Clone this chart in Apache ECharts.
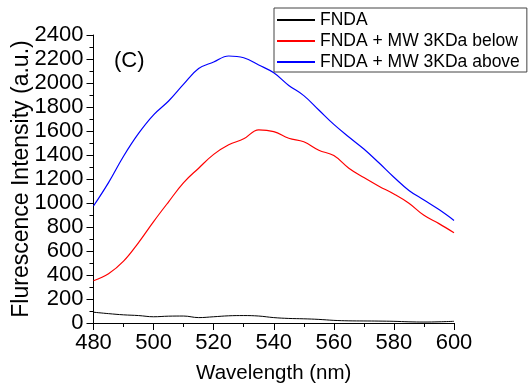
<!DOCTYPE html>
<html>
<head>
<meta charset="utf-8">
<script src="https://cdn.jsdelivr.net/npm/echarts@6/dist/echarts.min.js"></script>
<style>
html,body{margin:0;padding:0;background:#fff;}
#chart{width:529px;height:389px;}
</style>
</head>
<body>
<div id="chart"></div>
<script>
var wavelengths = [480,485,490,495,500,505,510,515,520,525,530,535,540,545,550,555,560,565,570,575,580,585,590,595,600];
var fnda =       [90,78,68,62,52,57,58,45,52,60,62,58,45,38,35,30,22,18,17,16,14,10,8,10,14];
var fndaBelow =  [352,410,515,670,845,1010,1170,1290,1405,1485,1535,1610,1595,1540,1510,1440,1395,1290,1212,1140,1075,998,897,828,752];
var fndaAbove =  [975,1170,1390,1580,1735,1850,1990,2120,2175,2225,2210,2150,2085,1980,1895,1775,1655,1550,1450,1335,1215,1105,1025,945,855];
var seriesNames = ['FNDA','FNDA + MW 3KDa below','FNDA + MW 3KDa above'];
var seriesColors = ['#000000','#ff0000','#0000ff'];
var xTitle = 'Wavelength (nm)';
var yTitle = 'Flurescence Intensity (a.u.)';
var panelLabel = '(C)';

function pairs(vals){ return wavelengths.map(function(w,i){ return [w, vals[i]]; }); }
var FONT = '"Liberation Sans", Arial, sans-serif';
var chart = echarts.init(document.getElementById('chart'), null, {renderer:'canvas'});
var allVals = [fnda, fndaBelow, fndaAbove];
chart.setOption({
  animation:false,
  backgroundColor:'#fff',
  textStyle:{fontFamily:FONT},
  grid:{left:93.5, right:75, top:35, bottom:63},
  legend:{
    orient:'vertical', left:274, top:8,
    padding:[2,7,0,3],
    itemWidth:38, itemHeight:2, itemGap:1,
    icon:'rect',
    borderColor:'#444', borderWidth:1, backgroundColor:'#fff',
    textStyle:{fontFamily:FONT, fontSize:17.5, color:'#000', lineHeight:20},
    data:seriesNames
  },
  xAxis:{
    type:'value', min:480, max:600, interval:20,
    name:xTitle, nameLocation:'middle', nameGap:40, nameMoveOverlap:false,
    nameTextStyle:{fontFamily:FONT, fontSize:20.5, color:'#000'},
    axisLine:{onZero:false, lineStyle:{color:'#000', width:1}},
    axisTick:{inside:false, length:7, lineStyle:{color:'#000'}},
    minorTick:{show:true, splitNumber:2, length:4, lineStyle:{color:'#000'}},
    axisLabel:{fontFamily:FONT, fontSize:22, color:'#000', margin:9},
    splitLine:{show:false}
  },
  yAxis:{
    type:'value', min:0, max:2400, interval:200,
    name:yTitle, nameLocation:'middle', nameGap:60, nameMoveOverlap:false,
    nameTextStyle:{fontFamily:FONT, fontSize:23, color:'#000'},
    axisLine:{show:true, lineStyle:{color:'#000', width:1}},
    axisTick:{inside:false, length:7, lineStyle:{color:'#000'}},
    minorTick:{show:true, splitNumber:2, length:4, lineStyle:{color:'#000'}},
    axisLabel:{fontFamily:FONT, fontSize:22, color:'#000', margin:10,
      formatter:function(v){ return String(v); }},
    splitLine:{show:false}
  },
  graphic:[{
    type:'text', left:114, top:50,
    style:{text:panelLabel, font:'22px "Liberation Sans", Arial, sans-serif', fill:'#000'}
  }],
  series: seriesNames.map(function(n,i){
    return {
      name:n, type:'line', data:pairs(allVals[i]), smooth:0.4,
      showSymbol:false, symbol:'none',
      lineStyle:{color:seriesColors[i], width: i===0 ? 1 : 1.2},
      itemStyle:{color:seriesColors[i]}
    };
  })
});
</script>
</body>
</html>
